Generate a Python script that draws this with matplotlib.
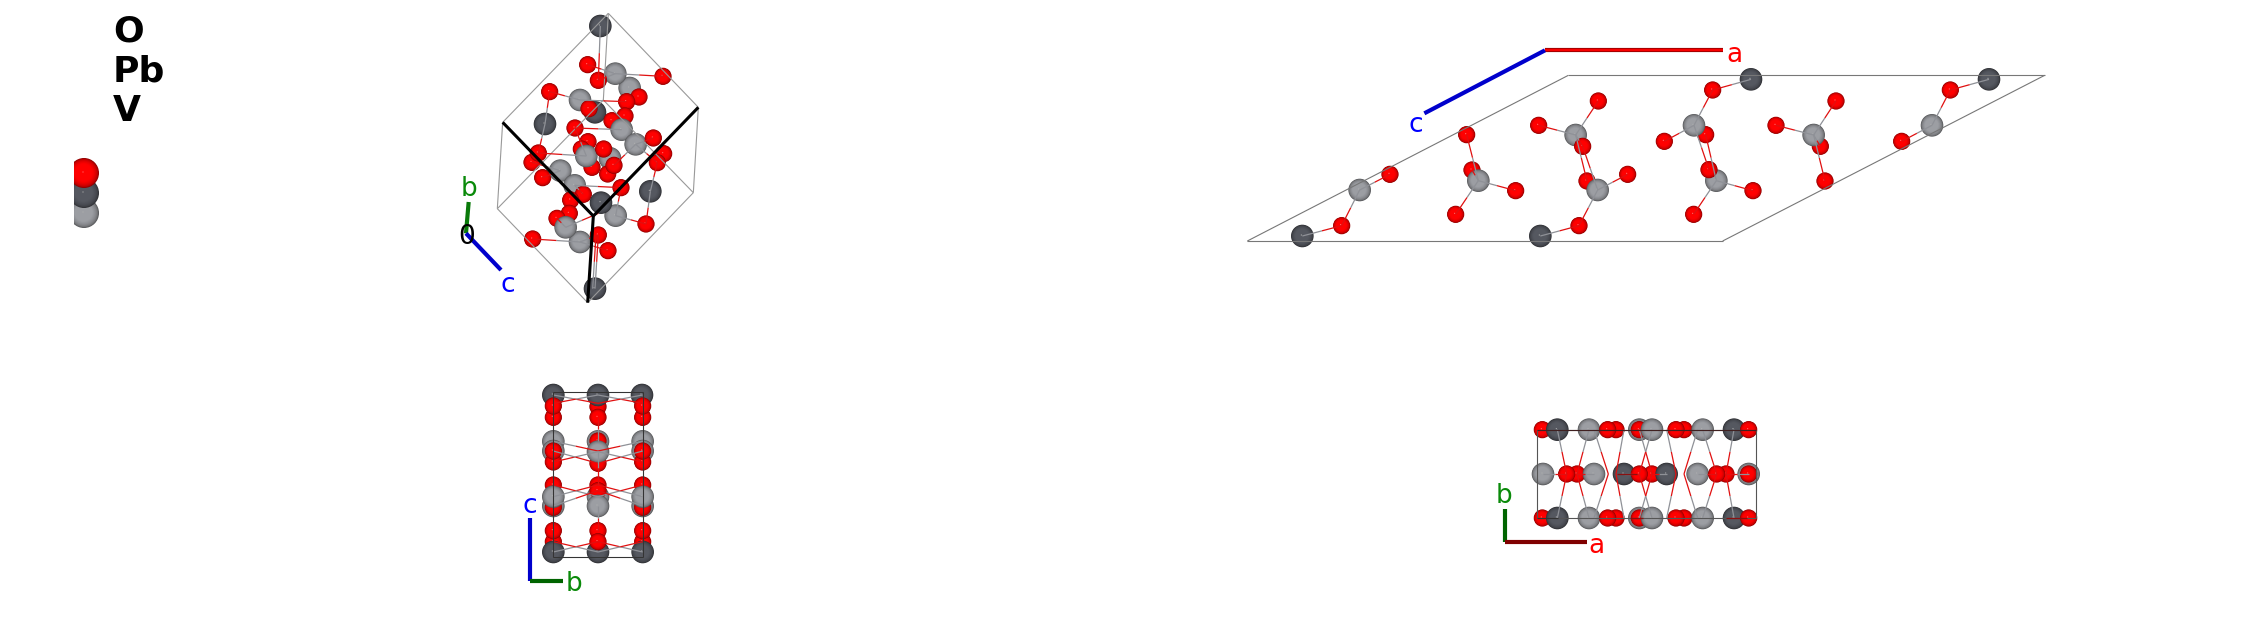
import numpy as np
import matplotlib
matplotlib.use("Agg")
import matplotlib.pyplot as plt
from matplotlib.patches import Circle, Rectangle

# atom positions below are read from 3x crops of the picture, so every panel
# has an origin (left, top) and its values get divided by 3

COLORS = {"O": "#ff0000", "Pb": "#555860", "V": "#9c9ea3"}
RADIUS = {"O": 8.6, "Pb": 11.3, "V": 11.3}

legend_names = ["O", "Pb", "V"]
legend_spheres = [("O", 84, 173), ("Pb", 84, 193), ("V", 84, 213)]
legend_radius = 15

# top middle panel
p1_origin = (440, 0)
p1_cell = [((188, 367), (505, 40)), ((505, 40), (775, 322)), ((775, 322), (760, 578)),
           ((760, 578), (443, 908)), ((443, 908), (172, 626)), ((172, 626), (188, 367)),
           ((505, 40), (490, 300)), ((172, 626), (490, 300)), ((760, 578), (490, 300))]
p1_thick = [((188, 367), (460, 648)), ((775, 322), (460, 648)), ((460, 648), (443, 908))]
p1_bonds = [((481, 78), (475, 241)), ((526, 221), (669, 229)), ((526, 221), (443, 194)),
            ((526, 221), (475, 241)), ((420, 300), (329, 275)), ((315, 372), (329, 275)),
            ((420, 300), (560, 305)), ((545, 389), (405, 384)), ((439, 468), (405, 384)),
            ((587, 433), (640, 414)), ((587, 433), (652, 488)), ((587, 433), (522, 496)),
            ((439, 468), (295, 459)), ((315, 372), (295, 459)), ((361, 512), (276, 487)),
            ((361, 512), (308, 533)), ((404, 556), (543, 563)), ((404, 556), (430, 583)),
            ((631, 574), (652, 488)), ((631, 574), (618, 672)), ((527, 647), (618, 672)),
            ((527, 647), (543, 563)), ((377, 682), (351, 655)), ((420, 726), (278, 717)),
            ((420, 726), (504, 752)), ((420, 726), (475, 705)), ((465, 866), (475, 705)),
            ((458, 866), (468, 705)), ((377, 682), (475, 640))]
p1_atoms = [("Pb", 481, 78), ("V", 569, 264), ("O", 597, 291), ("O", 560, 305),
            ("V", 526, 221), ("O", 443, 194), ("O", 475, 241), ("O", 669, 229),
            ("O", 329, 275), ("Pb", 465, 337), ("V", 420, 300), ("O", 447, 326),
            ("Pb", 315, 372), ("O", 555, 348), ("O", 516, 362), ("V", 545, 389),
            ("O", 405, 384), ("V", 587, 433), ("O", 640, 414),
            ("O", 444, 425), ("O", 424, 447), ("O", 671, 461), ("O", 652, 488),
            ("V", 510, 475), ("O", 456, 502), ("V", 439, 468), ("O", 491, 447),
            ("O", 503, 522), ("O", 522, 496), ("O", 276, 487), ("O", 295, 459),
            ("O", 308, 533), ("V", 361, 512), ("V", 404, 556), ("O", 543, 563),
            ("O", 430, 583), ("O", 392, 600), ("Pb", 631, 574), ("O", 388, 640),
            ("O", 351, 655), ("V", 527, 647), ("Pb", 483, 608), ("O", 618, 672),
            ("O", 278, 717), ("O", 475, 705), ("V", 420, 726), ("V", 377, 682),
            ("O", 504, 752), ("Pb", 465, 866)]

# top right panel
p2_origin = (1230, 20)
p2_cell_back = [((52, 663), (1480, 663)), ((1015, 166), (2444, 166))]
p2_cell_front = [((52, 663), (1015, 166)), ((2444, 166), (1478, 663))]
p2_bonds = [((389, 510), (480, 463)), ((389, 510), (335, 617)), ((217, 648), (335, 617)),
            ((745, 482), (710, 344)), ((745, 482), (726, 450)), ((745, 482), (857, 512)),
            ((745, 482), (677, 583)), ((1037, 345), (1105, 243)), ((1037, 345), (926, 316)),
            ((1037, 345), (1058, 379)), ((1037, 345), (1071, 483)), ((1103, 510), (1058, 379)),
            ((1103, 510), (1193, 463)), ((1103, 510), (1047, 617)), ((931, 648), (1047, 617)),
            ((1392, 316), (1448, 210)), ((1392, 316), (1303, 364)), ((1392, 316), (1437, 449)),
            ((1459, 482), (1427, 344)), ((1459, 482), (1569, 512)), ((1459, 482), (1391, 583)),
            ((1563, 178), (1448, 210)), ((1751, 345), (1818, 243)), ((1751, 345), (1638, 316)),
            ((1751, 345), (1771, 379)), ((1751, 345), (1785, 483)), ((2106, 316), (2161, 210)),
            ((2106, 316), (2015, 364)), ((2277, 178), (2161, 210))]
p2_atoms = [("O", 726, 450), ("O", 1071, 483), ("O", 1427, 344), ("O", 1771, 379),
            ("V", 389, 510), ("V", 745, 482), ("V", 1037, 345), ("V", 1103, 510),
            ("V", 1392, 316), ("V", 1459, 482), ("V", 1751, 345), ("V", 2106, 316),
            ("Pb", 217, 648), ("Pb", 931, 648), ("Pb", 1563, 178), ("Pb", 2277, 178),
            ("O", 480, 463), ("O", 335, 617), ("O", 710, 344), ("O", 857, 512),
            ("O", 677, 583), ("O", 1105, 243), ("O", 926, 316), ("O", 1058, 379),
            ("O", 1193, 463), ("O", 1047, 617), ("O", 1448, 210), ("O", 1303, 364),
            ("O", 1437, 449), ("O", 1391, 583), ("O", 1569, 512), ("O", 1818, 243),
            ("O", 1638, 316), ("O", 1785, 483), ("O", 2161, 210), ("O", 2015, 364)]

# bottom middle panel, looking down a
p3_origin = (500, 370)
p3_cell = [((160, 66), (428, 66)), ((428, 66), (428, 561)),
           ((428, 561), (160, 561)), ((160, 561), (160, 66))]
p3_bonds = [((160, 75), (294, 100)), ((294, 75), (160, 100)), ((294, 75), (428, 100)),
            ((428, 75), (294, 100)), ((160, 214), (294, 243)), ((428, 214), (294, 243)),
            ((294, 245), (160, 276)), ((294, 245), (428, 276)), ((160, 243), (294, 280)),
            ((428, 243), (294, 280)), ((160, 380), (294, 345)), ((428, 380), (294, 345)),
            ((294, 380), (160, 345)), ((294, 380), (428, 345)), ((160, 408), (294, 362)),
            ((428, 408), (294, 362)), ((160, 546), (294, 515)), ((428, 546), (294, 515)),
            ((294, 546), (160, 515)), ((294, 546), (428, 515)), ((294, 214), (294, 142)),
            ((294, 408), (294, 482)), ((294, 245), (294, 345))]
p3_atoms = [("O", 294, 110), ("Pb", 160, 75), ("Pb", 294, 75), ("Pb", 426, 75),
            ("O", 160, 142), ("O", 294, 142), ("O", 428, 142),
            ("O", 160, 108), ("O", 428, 108),
            ("V", 160, 214), ("V", 294, 214), ("V", 428, 214),
            ("V", 160, 243), ("V", 428, 243),
            ("O", 160, 276), ("O", 294, 280), ("O", 428, 276),
            ("O", 160, 243), ("O", 428, 243), ("O", 294, 213), ("V", 294, 245),
            ("V", 160, 408), ("V", 428, 408), ("V", 294, 380),
            ("O", 160, 412), ("O", 428, 412), ("O", 160, 345), ("O", 294, 345),
            ("O", 428, 345), ("O", 294, 362),
            ("V", 160, 380), ("V", 428, 380), ("V", 294, 408),
            ("O", 160, 515), ("O", 428, 515), ("O", 294, 482),
            ("Pb", 160, 546), ("Pb", 294, 546), ("Pb", 428, 546),
            ("O", 160, 482), ("O", 428, 482), ("O", 294, 515)]

# bottom right panel, looking down c
p4_origin = (1480, 400)
p4_cell = [((172, 89), (827, 89)), ((827, 89), (827, 354)),
           ((827, 354), (172, 354)), ((172, 354), (172, 89))]
p4_rows = [89, 354]
p4_row_bonds_x = [(232, 260), (327, 291), (342, 385), (432, 408), (516, 478),
                  (478, 516), (560, 588), (653, 612), (668, 710), (762, 738)]
p4_mid_bonds = [((189, 222), (260, 222)), ((342, 222), (291, 222)), ((432, 222), (478, 222)),
                ((560, 222), (516, 222)), ((653, 222), (710, 222)), ((806, 222), (738, 222))]
p4_row_atoms = [("O", 187), ("Pb", 232), ("V", 327), ("O", 408), ("O", 383),
                ("V", 478), ("O", 478), ("V", 516), ("O", 612), ("O", 588),
                ("V", 668), ("Pb", 762), ("O", 806)]
p4_mid_atoms = [("V", 189), ("O", 291), ("O", 260), ("V", 342), ("Pb", 432), ("O", 516),
                ("O", 478), ("Pb", 560), ("V", 653), ("O", 738), ("O", 710),
                ("V", 806), ("O", 806)]
# bits of cell edge and bond that show through the atoms
p4_top_edge = [((172, 89), (827, 89))]
p4_dark_bits = [((172, 354), (235, 354))]
p4_red_bits = [((410, 222), (470, 222)), ((450, 354), (490, 354)), ((738, 354), (800, 354))]


def to_px(origin, p):
    return origin[0] + p[0] / 3, origin[1] + p[1] / 3


def sphere(ax, species, x, y, clip=None, radius=None):
    base = np.array(matplotlib.colors.to_rgb(COLORS[species]))
    r = radius if radius else RADIUS[species]
    for rho in np.linspace(1, 0.05, 20):
        shade = min(1.0, 0.5 + 0.62 * np.sqrt(1 - (rho * 0.995) ** 2))
        c = Circle((x - (1 - rho), y - (1 - rho)), r * rho, fc=base * shade, ec="none", lw=0)
        ax.add_patch(c)
        if clip is not None:
            c.set_clip_path(clip)
    # little specular dot the renderer leaves
    dot = Circle((x - 1, y - 1), 0.6, fc="#b0b0b0" if species != "O" else "#ff7070", ec="none")
    ax.add_patch(dot)
    if clip is not None:
        dot.set_clip_path(clip)


def draw_lines(ax, origin, segs, color="#777777", lw=0.8):
    for a, b in segs:
        xa, ya = to_px(origin, a)
        xb, yb = to_px(origin, b)
        ax.plot([xa, xb], [ya, yb], color=color, lw=lw, solid_capstyle="butt")


def draw_bonds(ax, origin, segs):
    # half the bond takes the metal colour, the other half is oxygen red
    for a, b in segs:
        xa, ya = to_px(origin, a)
        xb, yb = to_px(origin, b)
        xm, ym = (xa + xb) / 2, (ya + yb) / 2
        ax.plot([xa, xm], [ya, ym], color="#8f9197", lw=0.9, solid_capstyle="butt")
        ax.plot([xm, xb], [ym, yb], color="#e01010", lw=0.9, solid_capstyle="butt")


def draw_atoms(ax, origin, atoms):
    for species, x, y in atoms:
        px, py = to_px(origin, (x, y))
        sphere(ax, species, px, py)


def axis_arrow(ax, origin, start, end, color, lw=3.0, core=None):
    draw_lines(ax, origin, [(start, end)], color=color, lw=lw)
    if core:
        draw_lines(ax, origin, [(start, end)], color=core, lw=lw * 0.45)


def label(ax, origin, p, s, color):
    x, y = to_px(origin, p)
    ax.text(x, y, s, color=color, fontsize=19, ha="center", va="center")


fig = plt.figure(figsize=(22.44, 6.32), dpi=100)
ax = fig.add_axes([0, 0, 1, 1])
ax.set_xlim(0, 2244)
ax.set_ylim(632, 0)
ax.axis("off")

# legend
for name, y in zip(legend_names, [31, 71, 111]):
    ax.text(113, y, name, fontsize=26, fontweight="bold", color="black", va="center", ha="left")
legend_clip = Rectangle((74, 150), 40, 90, transform=ax.transData)
for species, x, y in reversed(legend_spheres):
    sphere(ax, species, x, y, clip=legend_clip, radius=legend_radius)

# top middle
draw_lines(ax, p1_origin, p1_cell, color="#999999")
draw_bonds(ax, p1_origin, p1_bonds)
draw_atoms(ax, p1_origin, p1_atoms)
draw_lines(ax, p1_origin, p1_thick, color="black", lw=2.2)
axis_arrow(ax, p1_origin, (78, 700), (86, 606), "#0a7a0a")
axis_arrow(ax, p1_origin, (78, 700), (183, 810), "#0000cc")
label(ax, p1_origin, (80, 710), "0", "black")
label(ax, p1_origin, (88, 568), "b", "#0a8a0a")
label(ax, p1_origin, (203, 855), "c", "#0000ff")

# top right
draw_lines(ax, p2_origin, p2_cell_back)
draw_bonds(ax, p2_origin, p2_bonds)
draw_atoms(ax, p2_origin, p2_atoms)
draw_lines(ax, p2_origin, p2_cell_front)
axis_arrow(ax, p2_origin, (945, 91), (1480, 91), "#a80000", core="#ff0000")
axis_arrow(ax, p2_origin, (945, 91), (583, 280), "#0000cc")
label(ax, p2_origin, (1512, 106), "a", "#ff0000")
label(ax, p2_origin, (557, 315), "c", "#0000ff")

# bottom middle
draw_lines(ax, p3_origin, p3_cell, color="#555555")
draw_bonds(ax, p3_origin, p3_bonds)
draw_atoms(ax, p3_origin, p3_atoms)
draw_lines(ax, p3_origin, p3_cell, color="#333333", lw=0.7)
axis_arrow(ax, p3_origin, (90, 632), (90, 445), "#0000cc")
axis_arrow(ax, p3_origin, (90, 632), (188, 632), "#006400")
label(ax, p3_origin, (90, 408), "c", "#0000ff")
label(ax, p3_origin, (222, 643), "b", "#0a8a0a")

# bottom right
draw_lines(ax, p4_origin, p4_cell, color="#555555")
for y in p4_rows:
    draw_bonds(ax, p4_origin, [((a, y), (b, 222)) for a, b in p4_row_bonds_x])
draw_bonds(ax, p4_origin, p4_mid_bonds)
for y in p4_rows:
    draw_atoms(ax, p4_origin, [(s, x, y) for s, x in p4_row_atoms])
draw_atoms(ax, p4_origin, [(s, x, 222) for s, x in p4_mid_atoms])
draw_lines(ax, p4_origin, p4_top_edge, color="#402020", lw=0.8)
draw_lines(ax, p4_origin, p4_dark_bits, color="#333333", lw=0.8)
draw_lines(ax, p4_origin, p4_red_bits, color="#8a1010", lw=0.9)
axis_arrow(ax, p4_origin, (74, 426), (74, 328), "#006400")
axis_arrow(ax, p4_origin, (74, 426), (320, 426), "#800000")
label(ax, p4_origin, (73, 288), "b", "#0a8a0a")
label(ax, p4_origin, (350, 437), "a", "#ff0000")

fig.savefig("out.png", dpi=100)
